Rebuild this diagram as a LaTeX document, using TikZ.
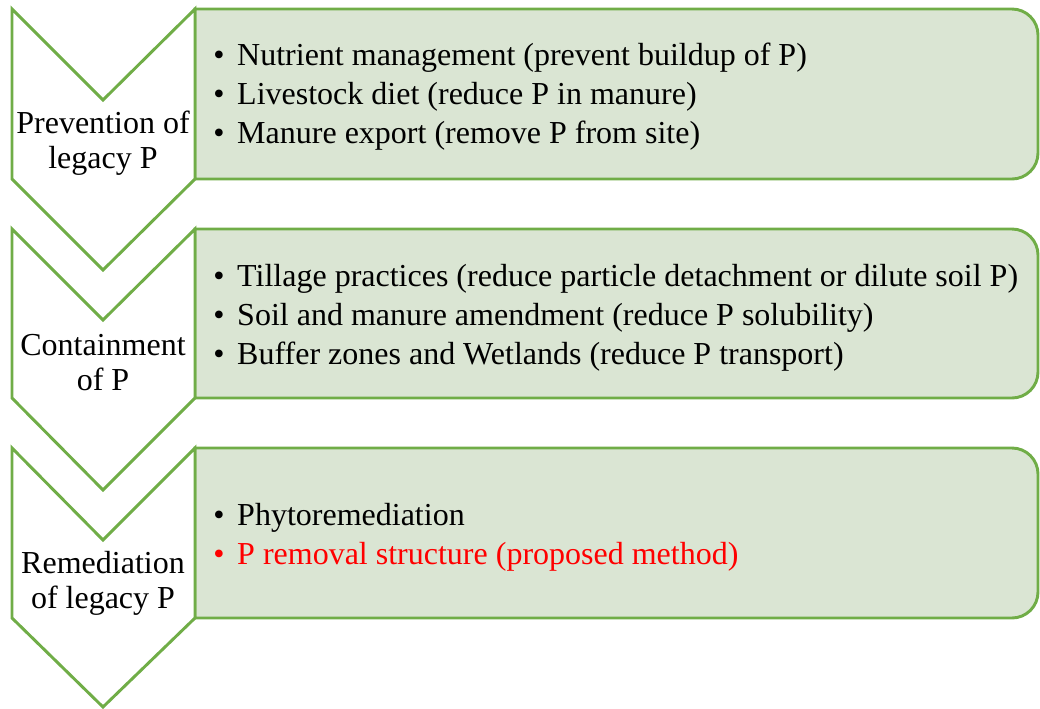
\documentclass[tikz,border=0pt]{standalone}
\usepackage{fontspec}
\setmainfont{Liberation Serif}
\usetikzlibrary{positioning}
\definecolor{leafgreen}{HTML}{70AD47}
\definecolor{palegreen}{HTML}{DAE5D3}
\newcommand{\bul}[1]{\makebox[18pt][l]{\textbullet}#1}

\begin{document}
\begin{tikzpicture}[x=0.75pt,y=-0.75pt,
 chev/.style={draw=leafgreen,line width=2.2pt,fill=white,line join=miter},
 rec/.style={draw=leafgreen,line width=2.2pt,fill=palegreen},
 lbl/.style={align=center,inner sep=0pt,font=\fontsize{24}{26.25}\selectfont},
 pts/.style={align=left,anchor=west,inner sep=0pt,font=\fontsize{24}{29.25}\selectfont}]
\useasboundingbox (0,0) rectangle (1040,708);
% stage 1
\draw[rec] (195,9) -- (1012,9) arc[start angle=-90,end angle=0,radius=26]
 -- (1038,153) arc[start angle=0,end angle=90,radius=26] -- (195,179) -- cycle;
\draw[chev] (12,9) -- (103,100) -- (195,9) -- (195,179) -- (103,270) -- (12,179) -- cycle;
\node[lbl] (prev) at (103,143) {Prevention of\\legacy P};
\node[pts] (prevlist) at (213,97) {\bul{Nutrient management (prevent buildup of P)}\\
 \bul{Livestock diet (reduce P in manure)}\\
 \bul{Manure export (remove P from site)}};
% stage 2
\draw[rec] (195,229) -- (1012,229) arc[start angle=-90,end angle=0,radius=26]
 -- (1038,372) arc[start angle=0,end angle=90,radius=26] -- (195,398) -- cycle;
\draw[chev] (12,229) -- (103,320) -- (195,229) -- (195,398) -- (103,490) -- (12,398) -- cycle;
\node[lbl] (cont) at (103,363) {Containment\\of P};
\node[pts] (contlist) at (213,318) {\bul{Tillage practices (reduce particle detachment or dilute soil P)}\\
 \bul{Soil and manure amendment (reduce P solubility)}\\
 \bul{Buffer zones and Wetlands (reduce P transport)}};
% stage 3
\draw[rec] (195,448) -- (1012,448) arc[start angle=-90,end angle=0,radius=26]
 -- (1038,592) arc[start angle=0,end angle=90,radius=26] -- (195,618) -- cycle;
\draw[chev] (12,448) -- (103,540) -- (195,448) -- (195,618) -- (103,707) -- (12,618) -- cycle;
\node[lbl] (remed) at (103,583) {Remediation\\of legacy P};
\node[pts] (remedlist) at (213,537) {\bul{Phytoremediation}\\
 \textcolor{red}{\bul{P removal structure (proposed method)}}};
\end{tikzpicture}
\end{document}
